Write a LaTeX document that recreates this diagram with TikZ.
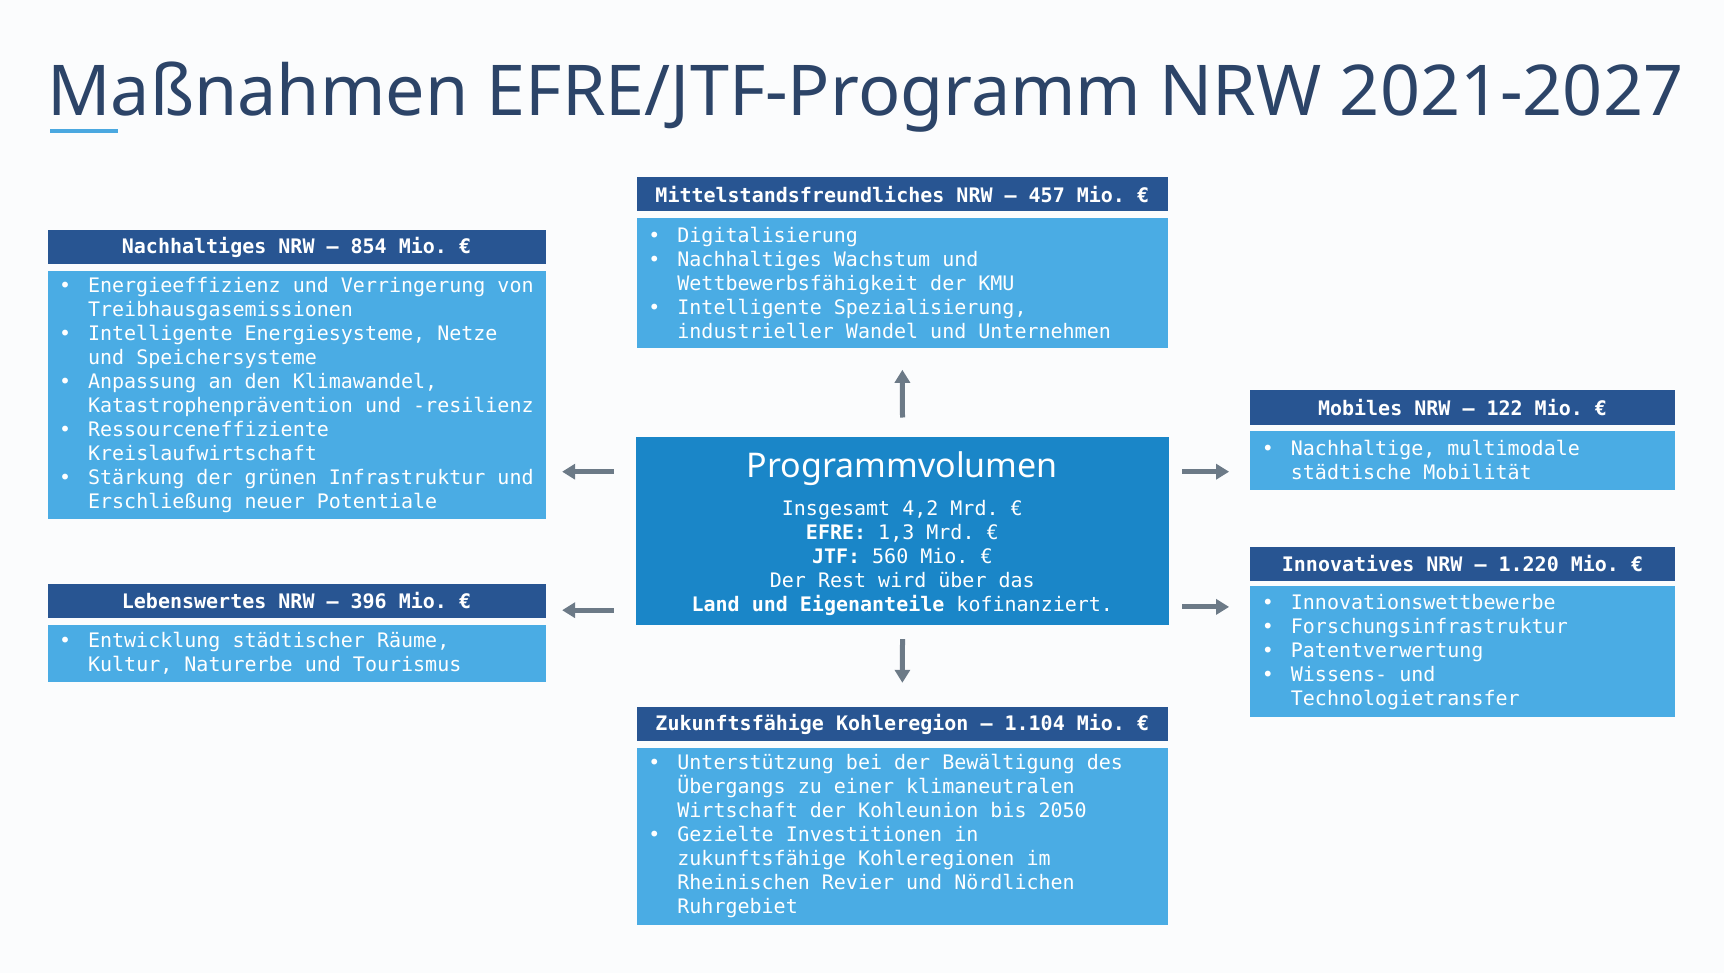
\documentclass[tikz,border=0pt]{standalone}
\usepackage{fontspec}
\setmainfont{Noto Sans}
\newfontfamily\monof{DejaVu Sans Mono}
\newfontfamily\titlef{Noto Sans}
\usetikzlibrary{arrows.meta,calc}
\definecolor{bg}{HTML}{FBFCFD}
\definecolor{hdr}{HTML}{285592}
\definecolor{bdy}{HTML}{4AACE4}
\definecolor{ctr}{HTML}{1A86C8}
\definecolor{ttl}{HTML}{2C4468}
\definecolor{arrc}{HTML}{6C7A87}
\definecolor{ul}{HTML}{4AA8E0}
\newcommand\bul{\makebox[29pt][l]{•}}
\newcommand\ind{\hspace*{29pt}}
\frenchspacing
\begin{document}
\frenchspacing
\begin{tikzpicture}[x=1pt,y=-1pt,
  hdrbox/.style={fill=hdr, draw=none, anchor=north west, inner sep=0pt,
    minimum height=34pt, text=white,
    font=\monof\bfseries\fontsize{20}{24}\selectfont\frenchspacing},
  bodybox/.style={fill=bdy, draw=none, anchor=north west, inner xsep=11.6pt,
    inner ysep=0pt, align=flush left, text=white,
    font=\monof\fontsize{20}{24}\selectfont\frenchspacing,
    execute at begin node={\spaceskip=0pt\xspaceskip=0pt}},
  arrowline/.style={draw=arrc, line width=5pt, -{Triangle[length=13pt,width=15pt]}}]
\fill[bg] (0,0) rectangle (1724,973);
\useasboundingbox (0,0) rectangle (1724,973);

% title
\node[anchor=base west, inner sep=0pt, text=ttl] (title) at (47,116)
  {\resizebox{1636pt}{!}{\titlef\fontsize{76}{90}\selectfont Maßnahmen EFRE/JTF-Programm NRW 2021-2027}};
\fill[ul] (49.5,128.6) rectangle (117.6,133.4);

% left column
\node[hdrbox, minimum width=498pt] (nh) at (47.3,229.8) {Nachhaltiges NRW – 854 Mio. €};
\node[bodybox, minimum width=498pt, text width=474.8pt, minimum height=248.5pt] (nb) at (47.3,270.5)
  {\bul Energieeffizienz und Verringerung von\\
   \ind Treibhausgasemissionen\\
   \bul Intelligente Energiesysteme, Netze\\
   \ind und Speichersysteme\\
   \bul Anpassung an den Klimawandel,\\
   \ind Katastrophenprävention und -resilienz\\
   \bul Ressourceneffiziente\\
   \ind Kreislaufwirtschaft\\
   \bul Stärkung der grünen Infrastruktur und\\
   \ind Erschließung neuer Potentiale};

\node[hdrbox, minimum width=498pt] (lh) at (47.3,583.8) {Lebenswertes NRW – 396 Mio. €};
\node[bodybox, minimum width=498pt, text width=474.8pt, minimum height=57.2pt] (lb) at (47.3,624.5)
  {\bul Entwicklung städtischer Räume,\\
   \ind Kultur, Naturerbe und Tourismus};

% middle column
\node[hdrbox, minimum width=531pt] (mh) at (636.6,177) {Mittelstandsfreundliches NRW – 457 Mio. €};
\node[bodybox, minimum width=531pt, text width=507.8pt, minimum height=129.7pt] (mb) at (636.6,217.7)
  {\bul Digitalisierung\\
   \bul Nachhaltiges Wachstum und\\
   \ind Wettbewerbsfähigkeit der KMU\\
   \bul Intelligente Spezialisierung,\\
   \ind industrieller Wandel und Unternehmen};

\node[fill=ctr, draw=none, anchor=north west, minimum width=533.7pt, minimum height=188pt, inner sep=0pt] (cbox) at (635.5,436.5) {};
\node[text=white, inner sep=0pt, anchor=base, font=\titlef\fontsize{34}{41}\selectfont] (ctitle) at (902.3,477) {Programmvolumen};
\node[text=white, inner sep=0pt, anchor=north, align=center, font=\monof\fontsize{20}{24}\selectfont\frenchspacing] (ctext) at (902.3,500.3)
  {Insgesamt 4,2 Mrd. €\\
   \textbf{EFRE:} 1,3 Mrd. €\\
   \textbf{JTF:} 560 Mio. €\\
   Der Rest wird über das\\
   \textbf{Land und Eigenanteile} kofinanziert.};

\node[hdrbox, minimum width=531pt] (zh) at (636.6,707) {Zukunftsfähige Kohleregion – 1.104 Mio. €};
\node[bodybox, minimum width=531pt, text width=507.8pt, minimum height=177pt] (zb) at (636.6,747.7)
  {\bul Unterstützung bei der Bewältigung des\\
   \ind Übergangs zu einer klimaneutralen\\
   \ind Wirtschaft der Kohleunion bis 2050\\
   \bul Gezielte Investitionen in\\
   \ind zukunftsfähige Kohleregionen im\\
   \ind Rheinischen Revier und Nördlichen\\
   \ind Ruhrgebiet};

% right column
\node[hdrbox, minimum width=424.4pt] (oh) at (1250.1,390.3) {Mobiles NRW – 122 Mio. €};
\node[bodybox, minimum width=424.4pt, text width=401.2pt, minimum height=58.3pt] (ob) at (1250.1,431)
  {\bul Nachhaltige, multimodale\\
   \ind städtische Mobilität};

\node[hdrbox, minimum width=424.4pt] (ih) at (1250.1,546.5) {Innovatives NRW – 1.220 Mio. €};
\node[bodybox, minimum width=424.4pt, text width=401.2pt, minimum height=131pt] (ib) at (1250.1,586)
  {\bul Innovationswettbewerbe\\
   \bul Forschungsinfrastruktur\\
   \bul Patentverwertung\\
   \bul Wissens- und\\
   \ind Technologietransfer};

% arrows
\coordinate (yA) at (0,471.7);
\coordinate (yB) at (0,610.2);
\coordinate (yC) at (0,606.9);
\draw[arrowline, shorten <=22pt, shorten >=16.4pt] (cbox.west |- yA) -- (nb.east |- yA);
\draw[arrowline, shorten <=22pt, shorten >=16.4pt] (cbox.west |- yB) -- (lb.east |- yB);
\draw[arrowline, shorten <=12.7pt, shorten >=21pt] (cbox.east |- yA) -- (ob.west |- yA);
\draw[arrowline, shorten <=12.7pt, shorten >=21pt] (cbox.east |- yC) -- (ib.west |- yC);
\draw[arrowline, shorten <=19pt, shorten >=22pt] (cbox.north) -- (mb.south);
\draw[arrowline, shorten <=14.3pt, shorten >=24.2pt] (cbox.south) -- (zh.north);
\end{tikzpicture}
\end{document}
